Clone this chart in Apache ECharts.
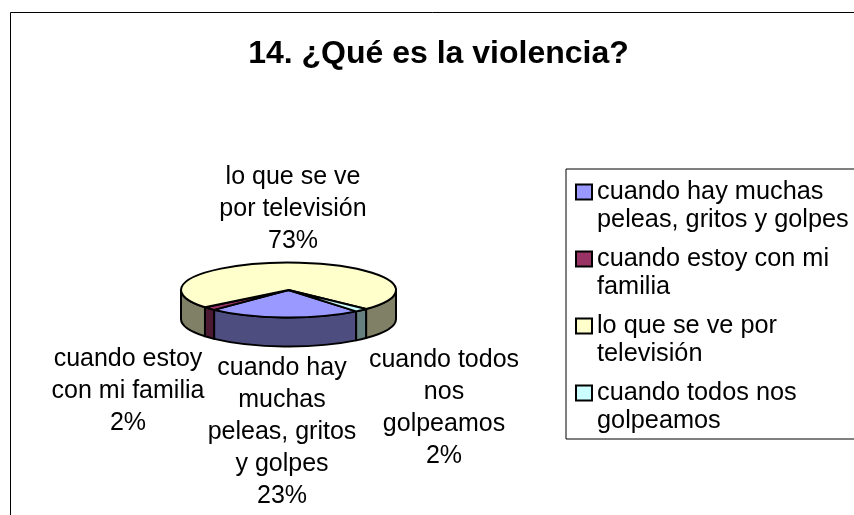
<!DOCTYPE html>
<html>
<head>
<meta charset="utf-8">
<style>html,body{margin:0;padding:0;background:#fff}#chart{width:854px;height:515px}</style>
<script src="https://cdn.jsdelivr.net/npm/echarts@6/dist/echarts.min.js"></script>
</head>
<body>
<div id="chart"></div>
<script>
// Answers to question 14, in percent
const categories = [
  'cuando hay muchas peleas, gritos y golpes',
  'cuando estoy con mi familia',
  'lo que se ve por televisión',
  'cuando todos nos golpeamos'
];
const shares = [23, 2, 73, 2];

// Line breaks for the slice captions and the legend entries
const captionLines = [
  ['cuando hay', 'muchas', 'peleas, gritos', 'y golpes'],
  ['cuando estoy', 'con mi familia'],
  ['lo que se ve', 'por televisión'],
  ['cuando todos', 'nos', 'golpeamos']
];
const legendLines = [
  ['cuando hay muchas', 'peleas, gritos y golpes'],
  ['cuando estoy con mi', 'familia'],
  ['lo que se ve por', 'televisión'],
  ['cuando todos nos', 'golpeamos']
];

// Top face colours and the darker wall colours
const topColors = ['#9999FF', '#993366', '#FFFFCC', '#CCFFFF'];
const wallColors = ['#4D4D80', '#4D1A33', '#808066', '#668080'];

// Tilted pie geometry
const pie = { cx: 288.5, cy: 290, rx: 107.5, ry: 27.5, depth: 29, firstAngle: 141 };
const captionCentres = [[282, 432], [128, 391], [293, 209], [444, 408.5]];
const FONT = '"Liberation Sans", Arial, sans-serif';

const toRad = d => d * Math.PI / 180;
const rimPoint = (deg, dy) => [
  pie.cx + pie.rx * Math.sin(toRad(deg)),
  pie.cy - pie.ry * Math.cos(toRad(deg)) + (dy || 0)
];
const arcTo = (deg, span, clockwise, dy) => {
  const p = rimPoint(deg, dy);
  return `A${pie.rx} ${pie.ry} 0 ${span > 180 ? 1 : 0} ${clockwise ? 1 : 0} ${p[0]} ${p[1]}`;
};

// Front-facing part of the rim runs from 90 to 270 degrees
function wallPath(start, end) {
  const parts = [];
  for (const shift of [0, 360]) {
    const a = Math.max(start, 90 + shift);
    const b = Math.min(end, 270 + shift);
    if (b > a) {
      const p = rimPoint(a), q = rimPoint(b, pie.depth);
      parts.push(`M${p[0]} ${p[1]}${arcTo(b, b - a, true)}L${q[0]} ${q[1]}${arcTo(a, b - a, false, pie.depth)}Z`);
    }
  }
  return parts.join('');
}

function topPath(start, end) {
  const p = rimPoint(start);
  return `M${pie.cx} ${pie.cy}L${p[0]} ${p[1]}${arcTo(end, end - start, true)}Z`;
}

const total = shares.reduce((a, b) => a + b, 0);

const series = categories.map((name, idx) => ({
  type: 'custom',
  name,
  coordinateSystem: 'none',
  silent: true,
  animation: false,
  clip: false,
  z: 2,
  itemStyle: { color: topColors[idx] },
  data: [[shares[idx]]],
  renderItem: (params, api) => {
    const before = shares.slice(0, idx).reduce((a, b) => a + b, 0);
    const start = pie.firstAngle + before / total * 360;
    const end = start + api.value(0) / total * 360;
    const line = { stroke: '#000', lineWidth: 2, lineJoin: 'round' };
    const caption = captionLines[idx].concat(api.value(0) + '%').join('\n');
    const children = [];
    const wall = wallPath(start, end);
    if (wall) {
      children.push({
        type: 'path',
        shape: { pathData: wall },
        style: Object.assign({ fill: wallColors[idx] }, line)
      });
    }
    children.push({
      type: 'path',
      z2: 5,
      shape: { pathData: topPath(start, end) },
      style: Object.assign({ fill: topColors[idx] }, line)
    });
    children.push({
      type: 'text',
      z2: 10,
      x: captionCentres[idx][0],
      y: captionCentres[idx][1],
      style: {
        text: caption,
        font: '25px ' + FONT,
        lineHeight: 32,
        fill: '#000',
        align: 'center',
        verticalAlign: 'middle'
      }
    });
    return { type: 'group', children };
  }
}));

const chart = echarts.init(document.getElementById('chart'), null, { renderer: 'canvas' });
chart.setOption({
  animation: false,
  backgroundColor: '#fff',
  title: {
    text: '14. ¿Qué es la violencia?',
    left: 438.5,
    top: 38,
    textAlign: 'center',
    padding: 0,
    textStyle: { fontFamily: FONT, fontSize: 32, fontWeight: 'bold', color: '#000' }
  },
  legend: {
    orient: 'vertical',
    left: 566,
    top: 169,
    padding: [-19, 40, 4, 9],
    itemWidth: 16,
    itemHeight: 15,
    itemGap: -17,
    selectedMode: false,
    icon: 'rect',
    borderColor: '#000',
    borderWidth: 1,
    backgroundColor: '#fff',
    // The empty first line keeps the icon level with the entry's first text line
    formatter: name => '\n' + legendLines[categories.indexOf(name)].join('\n'),
    textStyle: {
      fontFamily: FONT,
      fontSize: 25.3,
      lineHeight: 28,
      color: '#000'
    },
    data: categories.map((name, idx) => ({
      name,
      itemStyle: { color: topColors[idx], borderColor: '#000', borderWidth: 2 }
    }))
  },
  graphic: [{
    // Chart area frame; its right and bottom sides fall outside the page
    type: 'rect',
    silent: true,
    z: -1,
    shape: { x: 10.5, y: 12.5, width: 900, height: 600 },
    style: { fill: 'none', stroke: '#000', lineWidth: 1 }
  }],
  series
});
</script>
</body>
</html>
